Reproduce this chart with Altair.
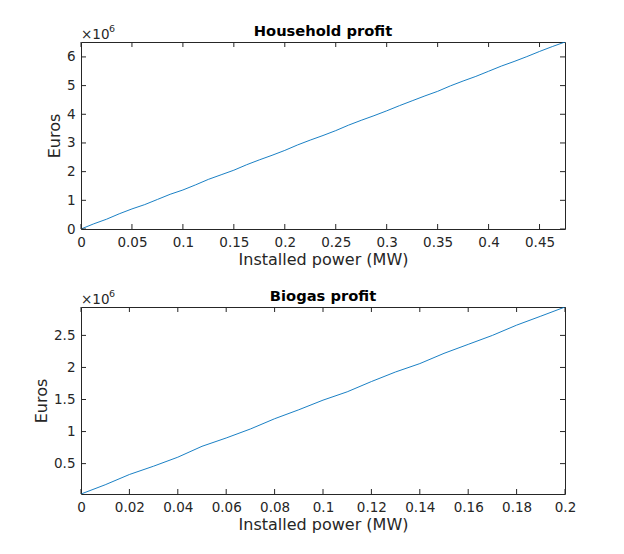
import altair as alt
import pandas as pd

# ---- data (values in millions of euros, shown with a x10^6 multiplier) ----
house_power = [0, 0.0125, 0.025, 0.0375, 0.05, 0.0625, 0.075, 0.0875, 0.1, 0.1125,
               0.125, 0.1375, 0.15, 0.1625, 0.175, 0.1875, 0.2, 0.2125, 0.225, 0.2375,
               0.25, 0.2625, 0.275, 0.2875, 0.3, 0.3125, 0.325, 0.3375, 0.35, 0.3625,
               0.375, 0.3875, 0.4, 0.4125, 0.425, 0.4375, 0.45, 0.4625, 0.475]
house_profit = [0, 0.18, 0.34, 0.53, 0.70, 0.85, 1.03, 1.21, 1.36, 1.54,
                1.73, 1.89, 2.05, 2.24, 2.41, 2.57, 2.74, 2.93, 3.10, 3.26,
                3.43, 3.62, 3.79, 3.95, 4.12, 4.30, 4.47, 4.64, 4.80, 4.99,
                5.16, 5.32, 5.50, 5.68, 5.84, 6.01, 6.19, 6.36, 6.52]

bio_power = [0, 0.01, 0.02, 0.03, 0.04, 0.05, 0.06, 0.07, 0.08, 0.09, 0.10,
             0.11, 0.12, 0.13, 0.14, 0.15, 0.16, 0.17, 0.18, 0.19, 0.20]
bio_profit = [0.026, 0.17, 0.33, 0.46, 0.60, 0.77, 0.90, 1.04, 1.20, 1.34, 1.49,
              1.62, 1.78, 1.93, 2.06, 2.22, 2.36, 2.50, 2.66, 2.80, 2.943]

house_xticks = [0, 0.05, 0.1, 0.15, 0.2, 0.25, 0.3, 0.35, 0.4, 0.45]
house_yticks = [0, 1, 2, 3, 4, 5, 6]
bio_xticks = [0, 0.02, 0.04, 0.06, 0.08, 0.1, 0.12, 0.14, 0.16, 0.18, 0.2]
bio_yticks = [0.5, 1, 1.5, 2, 2.5]

titles = ["Household profit", "Biogas profit"]
x_title = "Installed power (MW)"
y_title = "Euros"
exp_base = "×10"
exp_pow = "6"

W, H = 484, 187
FONT = "DejaVu Sans"
TXT = "#262626"
LINE = "#0072BD"
TICK = 5


def panel(xs, ys, xticks, yticks, xdom, ydom, title):
    df = pd.DataFrame({"p": xs, "v": ys})
    xsc = alt.Scale(domain=xdom, nice=False, zero=False)
    ysc = alt.Scale(domain=ydom, nice=False, zero=False)
    xax = alt.Axis(values=xticks, format="~g", grid=False, domain=False, ticks=False,
                   labelPadding=6, labelFlush=False, title=x_title, titlePadding=3)
    yax = alt.Axis(values=yticks, format="~g", grid=False, domain=False, ticks=False,
                   labelPadding=6, title=y_title, titlePadding=4)
    line = alt.Chart(df).mark_line(color=LINE, strokeWidth=0.9, clip=True).encode(
        x=alt.X("p:Q", scale=xsc, axis=xax),
        y=alt.Y("v:Q", scale=ysc, axis=yax),
    )
    dx = pd.DataFrame({"t": xticks})
    dy = pd.DataFrame({"t": yticks})
    tb = alt.Chart(dx).mark_rule(color=TXT, strokeWidth=1).encode(
        x=alt.X("t:Q", scale=xsc, axis=xax), y=alt.value(H), y2=alt.value(H - TICK))
    tt = alt.Chart(dx).mark_rule(color=TXT, strokeWidth=1).encode(
        x=alt.X("t:Q", scale=xsc, axis=xax), y=alt.value(0), y2=alt.value(TICK))
    tl = alt.Chart(dy).mark_rule(color=TXT, strokeWidth=1).encode(
        y=alt.Y("t:Q", scale=ysc, axis=yax), x=alt.value(0), x2=alt.value(TICK))
    tr = alt.Chart(dy).mark_rule(color=TXT, strokeWidth=1).encode(
        y=alt.Y("t:Q", scale=ysc, axis=yax), x=alt.value(W), x2=alt.value(W - TICK))
    e1 = alt.Chart(pd.DataFrame({"t": [exp_base]})).mark_text(
        align="left", baseline="alphabetic", font=FONT, fontSize=13.5, color=TXT
    ).encode(text="t:N", x=alt.value(0), y=alt.value(-3))
    e2 = alt.Chart(pd.DataFrame({"t": [exp_pow]})).mark_text(
        align="left", baseline="alphabetic", font=FONT, fontSize=9.5, color=TXT
    ).encode(text="t:N", x=alt.value(28), y=alt.value(-10))
    ttl = alt.Chart(pd.DataFrame({"t": [title]})).mark_text(
        align="center", baseline="alphabetic", font=FONT, fontSize=14.7,
        fontWeight="bold", color="black"
    ).encode(text="t:N", x=alt.value(W / 2), y=alt.value(-6))
    return alt.layer(line, tb, tt, tl, tr, e1, e2, ttl).properties(width=W, height=H)


top = panel(house_power, house_profit, house_xticks, house_yticks, [0, 0.475], [0, 6.52], titles[0])
bot = panel(bio_power, bio_profit, bio_xticks, bio_yticks, [0, 0.2], [0.026, 2.943], titles[1])

chart = alt.vconcat(top, bot, spacing=78, bounds="flush").properties(
    padding={"left": 25, "top": 15, "right": 10, "bottom": 5},
    background="white",
).configure_view(stroke=TXT, strokeWidth=1).configure_axis(
    labelFont=FONT, labelFontSize=13.5, labelColor=TXT,
    titleFont=FONT, titleFontSize=16, titleColor=TXT, titleFontWeight="normal",
)

chart.save("out.html", embed_options={"renderer": "svg", "actions": False})
